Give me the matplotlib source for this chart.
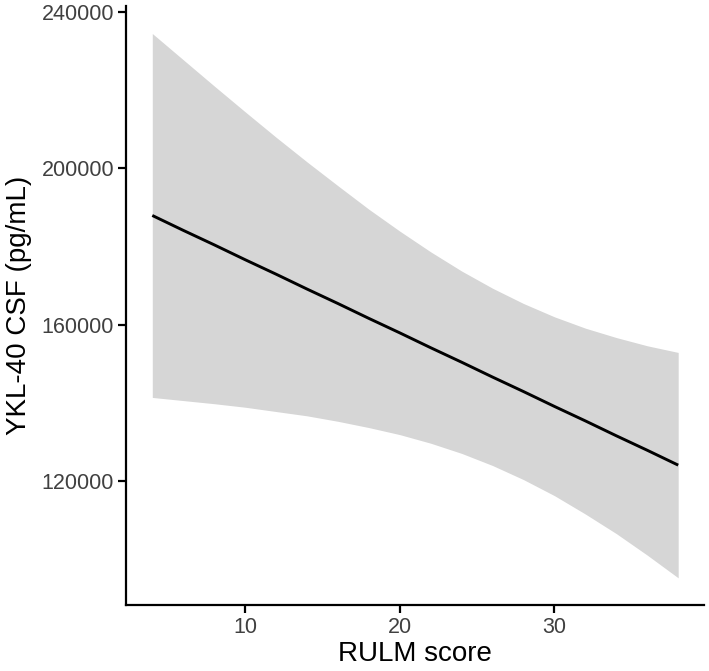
import matplotlib.pyplot as plt

plt.rcParams.update({
    'font.family': ['Liberation Sans', 'DejaVu Sans'],
    'font.size': 15,
})

# RULM score positions the fit/band were read at
rulm = [4, 6, 8, 10, 12, 14, 16, 18, 20, 22, 24, 26, 28, 30, 32, 34, 36, 38]
# fitted YKL-40 (pg/mL)
fit = [187900, 184100, 180400, 176600, 172900, 169100, 165400, 161600, 157900,
       154100, 150400, 146600, 142900, 139100, 135400, 131600, 127900, 124100]
# 95% CI band
ci_upper = [234400, 227700, 221000, 214400, 207900, 201600, 195500, 189500, 183900,
            178600, 173700, 169300, 165400, 162000, 159100, 156700, 154600, 152900]
ci_lower = [141400, 140600, 139800, 138900, 137800, 136700, 135300, 133700, 131900,
            129700, 127100, 124000, 120400, 116300, 111600, 106600, 101100, 95300]

xticks = [10, 20, 30]
yticks = [120000, 160000, 200000, 240000]

fig = plt.figure(figsize=(7.09, 6.71), dpi=100)
ax = fig.add_axes([126/709, 1 - 605/671, (704.5 - 126)/709, (605 - 6.3)/671])

ax.fill_between(rulm, ci_lower, ci_upper, color='#D6D6D6', linewidth=0)
ax.plot(rulm, fit, color='black', linewidth=2.1, solid_capstyle='butt')

ax.set_xlim(2.3, 39.7)
ax.set_ylim(88360, 241350)
ax.set_xticks(xticks)
ax.set_yticks(yticks)
ax.set_yticklabels([str(v) for v in yticks])

for side in ['top', 'right']:
    ax.spines[side].set_visible(False)
for side in ['left', 'bottom']:
    ax.spines[side].set_linewidth(1.6)
    ax.spines[side].set_color('black')

ax.tick_params(axis='both', length=5.5, width=1.6, color='black',
               labelsize=15.5, labelcolor='#404040', pad=3)

ax.set_xlabel('RULM score', fontsize=20, labelpad=2)
ax.set_ylabel('YKL-40 CSF (pg/mL)', fontsize=20, labelpad=7)

fig.savefig('out.png', dpi=100)
